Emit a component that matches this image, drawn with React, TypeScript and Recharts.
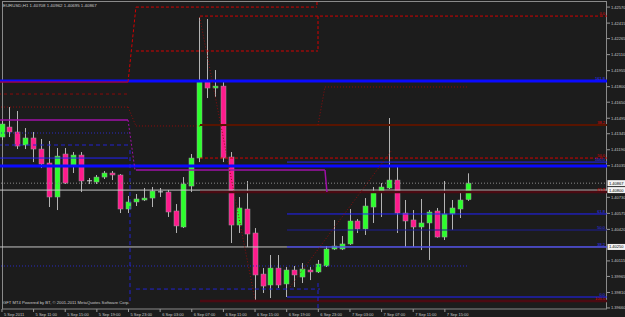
import React from "react";
import { ComposedChart, Bar, XAxis, YAxis, ReferenceLine } from "recharts";

const title = "EURUSD,H1  1.40708 1.40962 1.40695 1.40867";
const credit = "GFT MT4 Powered by BT, \u00a9 2001-2011 MetaQuotes Software Corp.";

// H1 bars, 5 Sep 2011 07:00 .. 7 Sep 2011 18:00
const opens = [
  1.41313, 1.4141, 1.41362, 1.41236, 1.41304, 1.41197, 1.41062, 1.40733, 1.41149, 1.41042,
  1.41139, 1.40888, 1.40878, 1.40926, 1.40965, 1.40946, 1.40617, 1.40685, 1.40704, 1.40723,
  1.40781, 1.40781, 1.40598, 1.40443, 1.40839, 1.4111, 1.41845, 1.41787, 1.41806, 1.4112,
  1.40462, 1.40617, 1.40385, 1.39988, 1.39882, 1.40046, 1.39892, 1.40027, 1.39959, 1.40027,
  1.40008, 1.40066, 1.4023, 1.4023, 1.40279, 1.40501, 1.40424, 1.40636, 1.40781, 1.4082,
  1.40897, 1.40578, 1.40511, 1.40443, 1.40482, 1.40598, 1.40346, 1.40569, 1.40617, 1.40708,
];
const highs = [
  1.41478, 1.41603, 1.41565, 1.414, 1.41362, 1.41294, 1.41275, 1.41207, 1.41207, 1.41168,
  1.41168, 1.40917, 1.40946, 1.40984, 1.40984, 1.40955, 1.40743, 1.40762, 1.4082, 1.4083,
  1.4082, 1.40801, 1.40665, 1.40926, 1.41149, 1.42474, 1.42454, 1.41961, 1.41845, 1.41168,
  1.40733, 1.40888, 1.40433, 1.40046, 1.40172, 1.40172, 1.40056, 1.40066, 1.40095, 1.40056,
  1.40124, 1.40259, 1.40511, 1.40356, 1.40617, 1.4052, 1.40723, 1.4083, 1.40868, 1.41497,
  1.41023, 1.40704, 1.40607, 1.40714, 1.40607, 1.40627, 1.40888, 1.40704, 1.40781, 1.40962,
];
const lows = [
  1.41284, 1.41313, 1.41197, 1.41197, 1.41071, 1.41013, 1.40636, 1.40607, 1.40859, 1.40965,
  1.40781, 1.40859, 1.40859, 1.40907, 1.40897, 1.40578, 1.40578, 1.40646, 1.40694, 1.40636,
  1.40733, 1.4054, 1.40385, 1.40433, 1.40781, 1.41071, 1.4169, 1.417, 1.41071, 1.40288,
  1.40385, 1.4025, 1.39737, 1.39805, 1.39756, 1.39853, 1.39766, 1.39863, 1.39901, 1.3993,
  1.39998, 1.40056, 1.4022, 1.4022, 1.4027, 1.40385, 1.40366, 1.40482, 1.4054, 1.4081,
  1.40385, 1.4025, 1.4025, 1.4022, 1.40124, 1.4034, 1.40317, 1.40414, 1.4053, 1.40695,
];
const closes = [
  1.41439, 1.41362, 1.41226, 1.41304, 1.41197, 1.41052, 1.40733, 1.41129, 1.40868, 1.41139,
  1.40888, 1.4089, 1.40926, 1.40965, 1.40946, 1.40617, 1.40685, 1.40714, 1.40723, 1.40791,
  1.40783, 1.40588, 1.40453, 1.40859, 1.4111, 1.41845, 1.41787, 1.41806, 1.4111, 1.40462,
  1.40627, 1.40375, 1.39979, 1.39872, 1.40046, 1.39882, 1.40027, 1.39979, 1.40037, 1.40008,
  1.40085, 1.4023, 1.40259, 1.40279, 1.40501, 1.40424, 1.40646, 1.40781, 1.4083, 1.40897,
  1.40578, 1.40501, 1.40443, 1.40482, 1.40588, 1.40346, 1.40569, 1.40627, 1.40704, 1.40867,
];
const SHIFT_BARS = 17; // empty space right of the last bar

const xTickLabels = [
  "5 Sep 2011", "5 Sep 11:00", "5 Sep 15:00", "5 Sep 19:00", "5 Sep 23:00",
  "6 Sep 03:00", "6 Sep 07:00", "6 Sep 11:00", "6 Sep 15:00", "6 Sep 19:00",
  "6 Sep 23:00", "7 Sep 03:00", "7 Sep 07:00", "7 Sep 11:00", "7 Sep 15:00",
];
const xTickStep = 4;
// 1.40885 and 1.40265 are hidden behind the price tags
const yTicks = [
  1.4257, 1.42415, 1.42265, 1.4211, 1.41955, 1.418, 1.4165, 1.41495, 1.41345, 1.4119,
  1.41035, 1.4073, 1.40575, 1.4042, 1.40115, 1.39965, 1.3981, 1.3966,
];
const yDomain = [1.3965, 1.42619];
const priceTags = [1.40867, 1.408, 1.4025];

// horizontal objects: price, from bar, to bar (-0.5 / 76.5 = chart edges), kind, tag
const levels: [number, number, number, string, string][] = [
  [1.41855, -0.5, 76.5, "blueThick", "161.8"],
  [1.41033, -0.5, 76.5, "blueThick", ""],
  [1.40867, -0.5, 76.5, "grayDot", ""],
  [1.408, -0.5, 76.5, "gray", ""],
  [1.4025, -0.5, 76.5, "gray", ""],
  [1.40066, -0.5, 58.8, "blueDot", ""],
  [1.41845, -0.5, 15.94, "red", ""],
  [1.41729, -0.5, 15.94, "maroonDash", ""],
  [1.41603, -0.5, 15.94, "maroonDot", ""],
  [1.41478, -0.5, 15.94, "purple", ""],
  [1.41352, -0.5, 15.94, "blueDot", ""],
  [1.41236, -0.5, 15.94, "blueDash", ""],
  [1.4111, -0.5, 15.94, "blue", ""],
  [1.4257, 16.94, 39.83, "redDash", ""],
  [1.42145, 16.94, 39.96, "redDash", ""],
  [1.4142, 16.94, 25.04, "maroonDot", ""],
  [1.40994, 16.94, 40.84, "purple", ""],
  [1.39843, 16.94, 40.21, "blueDash", ""],
  [1.42483, 25.04, 76.5, "redDash", "0.0"],
  [1.41797, 40.84, 58.8, "maroonDot", ""],
  [1.41429, 25.04, 76.5, "brown", "38.2"],
  [1.4111, 25.04, 76.5, "redDash", "50.0"],
  [1.40781, 25.04, 76.5, "maroon", "61.8"],
  [1.39727, 25.04, 76.5, "maroon", "100.0"],
  [1.41071, 36.04, 76.5, "blue", "100.0"],
  [1.40569, 36.04, 76.5, "blue", "61.8"],
  [1.40414, 36.04, 76.5, "navy", "50.0"],
  [1.4025, 36.04, 76.5, "blue", "38.2"],
  [1.39766, 36.04, 76.5, "blue", "0.0"],
];

// slanted / vertical objects: bar1, price1, bar2, price2, kind
const segments: [number, number, number, number, string][] = [
  [15.94, 1.41845, 16.94, 1.4257, "redDash"],
  [15.94, 1.41603, 16.94, 1.4142, "maroonDot"],
  [15.94, 1.41478, 16.82, 1.40994, "purpleDash"],
  [16.19, 1.41187, 16.19, 1.39727, "blueDash"],
  [39.83, 1.42619, 39.83, 1.4257, "redDash"],
  [39.96, 1.42483, 39.96, 1.42145, "redDash"],
  [39.96, 1.41429, 40.84, 1.41797, "maroonDot"],
  [40.84, 1.40994, 41.09, 1.40781, "purple"],
  [39.96, 1.39901, 39.96, 1.3965, "blueDash"],
  [25, 1.42474, 32, 1.39737, "maroonDot"],
  [36.42, 1.39863, 49.3, 1.41187, "maroonDot"],
];

const looks: Record<string, { stroke: string; width: number; dash?: string }> = {
  blueThick: { stroke: "#0a0aff", width: 3 },
  blue: { stroke: "#2020ff", width: 1 },
  blueDash: { stroke: "#2222d0", width: 1, dash: "4 3" },
  blueDot: { stroke: "#2a2ac0", width: 1, dash: "1 2" },
  navy: { stroke: "#1c1c95", width: 1 },
  red: { stroke: "#e00000", width: 1 },
  redDash: { stroke: "#d40000", width: 1, dash: "3 2" },
  maroonDash: { stroke: "#8c0a0a", width: 1, dash: "3 3" },
  maroonDot: { stroke: "#900c0c", width: 1, dash: "1 2" },
  brown: { stroke: "#581400", width: 2 },
  maroon: { stroke: "#4c0a12", width: 2.5 },
  purple: { stroke: "#a010a8", width: 1.5 },
  purpleDash: { stroke: "#a010a8", width: 1, dash: "2 2" },
  gray: { stroke: "#c4c4c4", width: 1 },
  grayDot: { stroke: "#8a8a8a", width: 1, dash: "1 2" },
};

const BG = "#1c1c1c";
const GREEN = "#2cff2c";
const PINK = "#ff1a8c";
const TEXT = "#c8c8c8";
const FONT = "Liberation Sans, Arial, sans-serif";

const rows = Array.from({ length: opens.length + SHIFT_BARS }, (_, i) =>
  i < opens.length
    ? { i, o: opens[i], h: highs[i], l: lows[i], c: closes[i], range: [lows[i], highs[i]] }
    : { i, range: null }
);

function Candle(props: any) {
  const { x, y, width, height, payload } = props;
  if (!payload || payload.o == null || !height) return <g />;
  const { o, h, l, c } = payload;
  const top = Math.min(y, y + height);
  const span = Math.abs(height);
  const k = span / (h - l);
  const cx = Math.round(x + width / 2) + 0.5;
  const bTop = top + (h - Math.max(o, c)) * k;
  const bBot = top + (h - Math.min(o, c)) * k;
  const doji = bBot - bTop < 1;
  return (
    <g>
      <line x1={cx} x2={cx} y1={top} y2={top + span} stroke="#b4b4b4" strokeWidth={1} />
      {doji ? (
        <line x1={cx - 2.5} x2={cx + 2.5} y1={bTop} y2={bTop} stroke="#d0d0d0" strokeWidth={1} />
      ) : (
        <rect
          x={cx - 2.5}
          y={bTop}
          width={5}
          height={bBot - bTop}
          fill={c >= o ? GREEN : PINK}
          stroke="#9c9c9c"
          strokeWidth={0.5}
        />
      )}
    </g>
  );
}

function XTick(props: any) {
  const { x, payload } = props;
  const i = Number(payload.value);
  const label = i % xTickStep === 0 ? xTickLabels[i / xTickStep] : undefined;
  if (!label) return <g />;
  return (
    <g>
      <line x1={x} x2={x} y1={309} y2={312} stroke="#9a9a9a" />
      <text x={x + 2} y={315.5} fontSize={4} fill={TEXT} fontFamily={FONT}>
        {label}
      </text>
    </g>
  );
}

function YTick(props: any) {
  const { y, payload } = props;
  return (
    <g>
      <line x1={607} x2={610} y1={y} y2={y} stroke="#9a9a9a" />
      <text x={611} y={y + 1.5} fontSize={4} fill={TEXT} fontFamily={FONT}>
        {Number(payload.value).toFixed(5)}
      </text>
    </g>
  );
}

function levelTag(text: string, color: string) {
  return (props: any) => {
    const vb = props && props.viewBox;
    if (!vb) return null;
    return (
      <text x={vb.x + vb.width - 2} y={vb.y - 1.2} textAnchor="end" fontSize={4} fill={color} fontFamily={FONT}>
        {text}
      </text>
    );
  };
}

function priceTag(value: number) {
  return (props: any) => {
    const vb = props && props.viewBox;
    if (!vb) return null;
    return (
      <g>
        <rect x={607.5} y={vb.y - 3} width={18} height={6} fill="#f2f2f2" />
        <text x={609} y={vb.y + 1.5} fontSize={4} fill="#000" fontFamily={FONT}>
          {value.toFixed(5)}
        </text>
      </g>
    );
  };
}

export default function App() {
  return (
    <div style={{ position: "fixed", left: 0, top: 0, width: 625, height: 317, background: BG, overflow: "hidden" }}>
      <svg width={625} height={317} style={{ position: "absolute", left: 0, top: 0 }}>
        <rect x={2.5} y={1.5} width={604} height={307.5} fill="none" stroke="#8a8a8a" />
      </svg>
      <div style={{ position: "absolute", left: 0, top: 0 }}>
        <ComposedChart width={625} height={317} data={rows} margin={{ top: 2, right: 0, bottom: 0, left: -2 }}>
          <XAxis dataKey="i" height={8} interval={0} tick={<XTick />} tickLine={false} axisLine={false} />
          <XAxis xAxisId="n" dataKey="i" type="number" domain={[-0.5, 76.5]} allowDataOverflow hide />
          <YAxis
            orientation="right"
            width={18}
            domain={yDomain}
            ticks={yTicks}
            interval={0}
            allowDataOverflow
            tick={<YTick />}
            tickLine={false}
            axisLine={false}
          />
          {levels.map(([p, a, b, kind, tag], n) => {
            const s = looks[kind];
            const blue = kind.startsWith("blue") || kind === "navy";
            return (
              <ReferenceLine
                key={"lv" + n}
                xAxisId="n"
                segment={[{ x: a, y: p }, { x: b, y: p }]}
                stroke={s.stroke}
                strokeWidth={s.width}
                strokeDasharray={s.dash}
                ifOverflow="visible"
                label={tag ? levelTag(tag, blue ? "#3030ff" : "#e00000") : undefined}
              />
            );
          })}
          {segments.map(([a, p1, b, p2, kind], n) => {
            const s = looks[kind];
            return (
              <ReferenceLine
                key={"sg" + n}
                xAxisId="n"
                segment={[{ x: a, y: p1 }, { x: b, y: p2 }]}
                stroke={s.stroke}
                strokeWidth={s.width}
                strokeDasharray={s.dash}
                ifOverflow="visible"
              />
            );
          })}
          <Bar dataKey="range" barSize={5} shape={<Candle />} isAnimationActive={false} />
          {priceTags.map((p) => (
            <ReferenceLine key={"pt" + p} y={p} stroke="none" ifOverflow="visible" label={priceTag(p)} />
          ))}
        </ComposedChart>
      </div>
      <svg width={625} height={317} style={{ position: "absolute", left: 0, top: 0, pointerEvents: "none" }}>
        <text x={3} y={6.5} fontSize={4.4} fill={TEXT} fontFamily={FONT}>
          {title}
        </text>
        <text x={3} y={303.5} fontSize={4.2} fill={TEXT} fontFamily={FONT}>
          {credit}
        </text>
      </svg>
    </div>
  );
}
